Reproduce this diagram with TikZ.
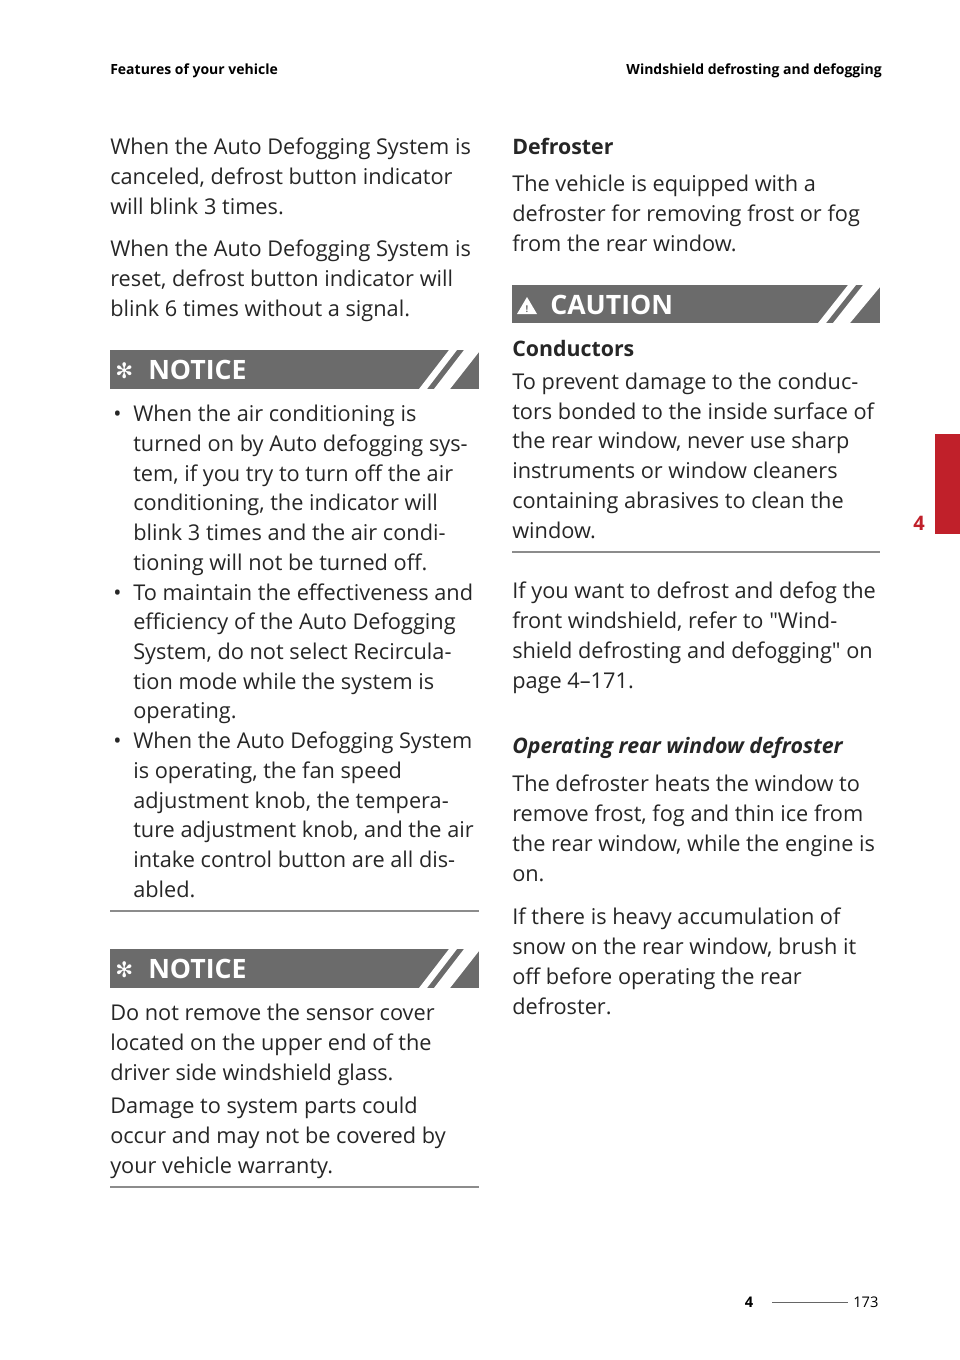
\documentclass[tikz,border=0pt]{standalone}
\usepackage{fontspec}
\setmainfont{Open Sans}
\newfontfamily\djv{DejaVu Sans}
\newfontfamily\osq{Open Sans}
\newcommand\sq{{\osq"}}
\definecolor{tabred}{HTML}{C0202A}
\begin{document}
\begin{tikzpicture}[x=0.75pt,y=-0.75pt,
  body/.style={anchor=base west,inner sep=0pt,font=\fontsize{16.3}{19}\selectfont,text=black!85},
  hdr/.style={anchor=base west,inner sep=0pt,font=\fontsize{10.5}{12}\selectfont\bfseries},
  bar/.style={fill=black!58,draw=none},
  rule/.style={draw=black!45,line width=0.8pt}]
\useasboundingbox (0,0) rectangle (960,1360);
\newcommand\tl[3]{\node[body] at (#1,#2) {#3};}
% headers
\node[hdr] (h1) at (110,74) {Features of your vehicle};
\node[hdr,anchor=base east] (h2) at (882,74) {Windshield defrosting and defogging};
% left column
\tl{110}{154}{When the Auto Defogging System is}
\tl{110}{184}{canceled, defrost button indicator}
\tl{110}{214}{will blink 3 times.}
\tl{110}{256}{When the Auto Defogging System is}
\tl{110}{286}{reset, defrost button indicator will}
\tl{110}{316}{blink 6 times without a signal.}
% notice bars
\foreach \y/\n in {350/n1,949/n2}{
  \fill[bar] (110,\y) rectangle (479,\y+39);
  \fill[white] (419,\y+39) -- (449,\y) -- (457,\y) -- (427,\y+39) -- cycle;
  \fill[white] (434,\y+39) -- (464,\y) -- (479,\y) -- (479,\y+2) -- (450,\y+39) -- cycle;
  \node[anchor=base west,inner sep=0pt,text=white,font=\fontsize{20}{24}\selectfont\bfseries] (\n) at (148,\y+29) {NOTICE};
  \node[anchor=base west,inner sep=0pt,text=white,font=\djv\fontsize{16}{18}\selectfont] at (115,\y+28) {✻};
}
\foreach \y in {421,600,748}{\node[body] at (113,\y) {•};}
\tl{133}{421}{When the air conditioning is}
\tl{133}{451}{turned on by Auto defogging sys-}
\tl{133}{481}{tem, if you try to turn off the air}
\tl{133}{510}{conditioning, the indicator will}
\tl{133}{540}{blink 3 times and the air condi-}
\tl{133}{570}{tioning will not be turned off.}
\tl{133}{600}{To maintain the effectiveness and}
\tl{133}{629}{efficiency of the Auto Defogging}
\tl{133}{659}{System, do not select Recircula-}
\tl{133}{689}{tion mode while the system is}
\tl{133}{718}{operating.}
\tl{133}{748}{When the Auto Defogging System}
\tl{133}{778}{is operating, the fan speed}
\tl{133}{808}{adjustment knob, the tempera-}
\tl{133}{837}{ture adjustment knob, and the air}
\tl{133}{867}{intake control button are all dis-}
\tl{133}{897}{abled.}
\draw[rule] (110,911) -- (479,911);
\tl{110}{1020}{Do not remove the sensor cover}
\tl{110}{1050}{located on the upper end of the}
\tl{110}{1080}{driver side windshield glass.}
\tl{110}{1113}{Damage to system parts could}
\tl{110}{1143}{occur and may not be covered by}
\tl{110}{1173}{your vehicle warranty.}
\draw[rule] (110,1187) -- (479,1187);
% right column
\node[body,font=\fontsize{16}{19}\selectfont\bfseries] (def) at (512,154) {Defroster};
\tl{512}{191}{The vehicle is equipped with a}
\tl{512}{221}{defroster for removing frost or fog}
\tl{512}{251}{from the rear window.}
\fill[bar] (512,285) rectangle (880,323);
\fill[white] (818,323) -- (848,285) -- (856,285) -- (826,323) -- cycle;
\fill[white] (833,323) -- (863,285) -- (880,285) -- (880,287) -- (850,323) -- cycle;
\fill[white] (517,314) -- (527,297) -- (537,314) -- cycle;
\node[inner sep=0pt,font=\fontsize{7}{8}\selectfont\bfseries,text=black!58] at (527,309) {!};
\node[anchor=base west,inner sep=0pt,text=white,font=\fontsize{20}{24}\selectfont\bfseries] (cau) at (550,314) {CAUTION};
\node[body,font=\fontsize{16}{19}\selectfont\bfseries] (con) at (512,356) {Conductors};
\tl{512}{389}{To prevent damage to the conduc-}
\tl{512}{419}{tors bonded to the inside surface of}
\tl{512}{448}{the rear window, never use sharp}
\tl{512}{478}{instruments or window cleaners}
\tl{512}{508}{containing abrasives to clean the}
\tl{512}{538}{window.}
\draw[rule] (512,552) -- (880,552);
\tl{512}{598}{If you want to defrost and defog the}
\tl{512}{628}{front windshield, refer to \sq Wind-}
\tl{512}{658}{shield defrosting and defogging\sq{} on}
\tl{512}{688}{page 4–171.}
\node[body,font=\fontsize{16}{19}\selectfont\bfseries\itshape] (op) at (512,753) {Operating rear window defroster};
\tl{512}{791}{The defroster heats the window to}
\tl{512}{821}{remove frost, fog and thin ice from}
\tl{512}{851}{the rear window, while the engine is}
\tl{512}{881}{on.}
\tl{512}{924}{If there is heavy accumulation of}
\tl{512}{954}{snow on the rear window, brush it}
\tl{512}{984}{off before operating the rear}
\tl{512}{1014}{defroster.}
% tab
\fill[tabred] (935,434) rectangle (960,534);
\node[anchor=base,inner sep=0pt,text=tabred,font=\fontsize{15}{18}\selectfont\bfseries] (tab) at (919,530) {4};
% footer
\node[anchor=base,inner sep=0pt,font=\fontsize{11}{13}\selectfont\bfseries] (f1) at (749,1307) {4};
\node[anchor=base west,inner sep=0pt,font=\fontsize{11}{13}\selectfont] (f2) at (853,1307) {173};
\draw[black!60,line width=0.6pt] (772,1302) -- (848,1302);
\end{tikzpicture}
\end{document}
